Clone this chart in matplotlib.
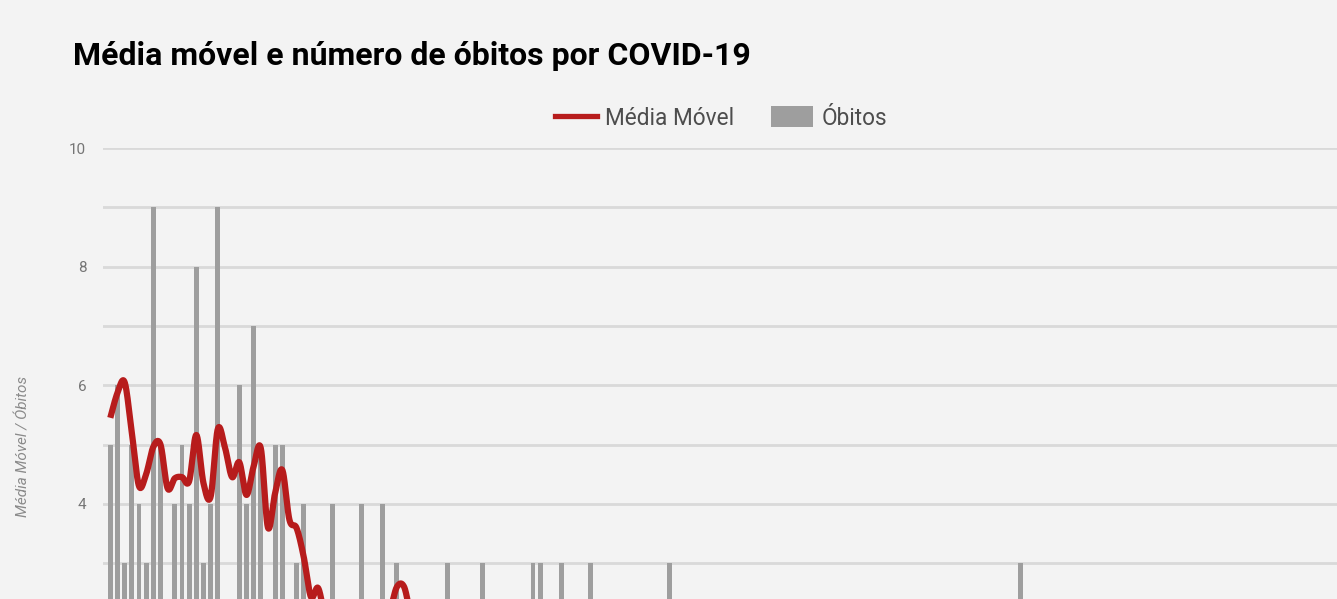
import numpy as np
import matplotlib
matplotlib.use("Agg")
import matplotlib.pyplot as plt
from matplotlib.lines import Line2D
from matplotlib.patches import Patch

# daily deaths (only the bars that reach into the visible frame)
bar_days = [0, 1, 2, 3, 4, 5, 6, 7, 9, 10, 11, 12, 13, 14, 15, 18, 19, 20, 21,
            23, 24, 26, 27, 31, 35, 38, 40, 47, 52, 59, 60, 63, 67, 78, 127]
bar_values = [5, 6, 3, 5, 4, 3, 9, 5, 4, 5, 4, 8, 3, 4, 9, 6, 4, 7, 5,
              5, 5, 3, 4, 4, 4, 4, 3, 3, 3, 3, 3, 3, 3, 3, 3]

# moving average, one value per day
ma_days = list(range(45))
ma_values = [5.45, 5.87, 6.05, 5.2, 4.3, 4.5, 4.96, 5.0, 4.26, 4.43,
             4.45, 4.38, 5.16, 4.35, 4.12, 5.26, 4.95, 4.45, 4.7, 4.15,
             4.63, 4.94, 3.6, 4.18, 4.57, 3.73, 3.59, 3.1, 2.43, 2.58,
             2.1, 2.0, 1.9, 1.9, 1.8, 1.9, 1.9, 2.0, 2.1, 2.2,
             2.6, 2.6, 2.1, 1.9, 1.8]

# labelled ticks inside the visible frame (the lower ones are cut off)
yticks = [4, 6, 8, 10]

BG = "#f3f3f3"
RED = "#b71c1c"
GREY = "#9e9e9e"


def catmull_rom(x, y, n=24):
    """smooth curve through the points, like the 'function' curve type"""
    x = np.asarray(x, float)
    y = np.asarray(y, float)
    xs, ys = [], []
    for i in range(len(x) - 1):
        i0, i3 = max(i - 1, 0), min(i + 2, len(x) - 1)
        t = np.linspace(0, 1, n, endpoint=False)
        for arr, out in ((x, xs), (y, ys)):
            p0, p1, p2, p3 = arr[i0], arr[i], arr[i + 1], arr[i3]
            out.extend(0.5 * (2 * p1 + (-p0 + p2) * t
                              + (2 * p0 - 5 * p1 + 4 * p2 - p3) * t ** 2
                              + (-p0 + 3 * p1 - 3 * p2 + p3) * t ** 3))
    xs.append(x[-1])
    ys.append(y[-1])
    return np.array(xs), np.array(ys)


fig = plt.figure(figsize=(13.37, 5.99), dpi=100)
fig.patch.set_facecolor(BG)

# axes run past the bottom edge: the frame is cut at about y=2.4
ax = fig.add_axes([103 / 1337, -142 / 599, 1234 / 1337, 593 / 599])
ax.set_facecolor(BG)

ax.bar(bar_days, bar_values, width=0.68, color=GREY, zorder=2)
sx, sy = catmull_rom(ma_days, ma_values)
ax.plot(sx, sy, color=RED, lw=4.5, solid_capstyle="butt", zorder=3)

ax.set_xlim(-1.02, 171.2)
ax.set_ylim(0, 10)
ax.set_yticks(yticks)
ax.set_yticks([1, 2, 3, 5, 7, 9], minor=True)
ax.grid(axis="y", which="both", color="#d9d9d9", lw=2.0, zorder=0)
ax.tick_params(axis="y", which="both", length=0, pad=12,
               labelsize=11, labelcolor="#757575")
ax.tick_params(axis="x", bottom=False, labelbottom=False)
for s in ax.spines.values():
    s.set_visible(False)
for lab in ax.get_yticklabels():
    lab.set_family("Roboto")

fig.text(73 / 1337, (599 - 65) / 599, "Média móvel e número de óbitos por COVID-19",
         family="Roboto", weight="bold", fontsize=23, color="black", va="baseline")

fig.text(24 / 1337, (599 - 446) / 599, "Média Móvel / Óbitos", rotation=90,
         family="Roboto", style="italic", fontsize=11, color="#8a8a8a",
         ha="center", va="center")

handles = [Line2D([], [], color=RED, lw=3.8),
           Patch(facecolor=GREY, edgecolor="none")]
leg = fig.legend(handles, ["Média Móvel", "Óbitos"], loc="center",
                 bbox_to_anchor=(721 / 1337, (599 - 118) / 599), ncol=2,
                 frameon=False, prop={"family": "Roboto", "size": 16.3},
                 handlelength=1.86, handleheight=1.05, handletextpad=0.35,
                 columnspacing=1.64)
for t in leg.get_texts():
    t.set_color("#4d4d4d")

fig.savefig("out.png", dpi=100, facecolor=BG)
